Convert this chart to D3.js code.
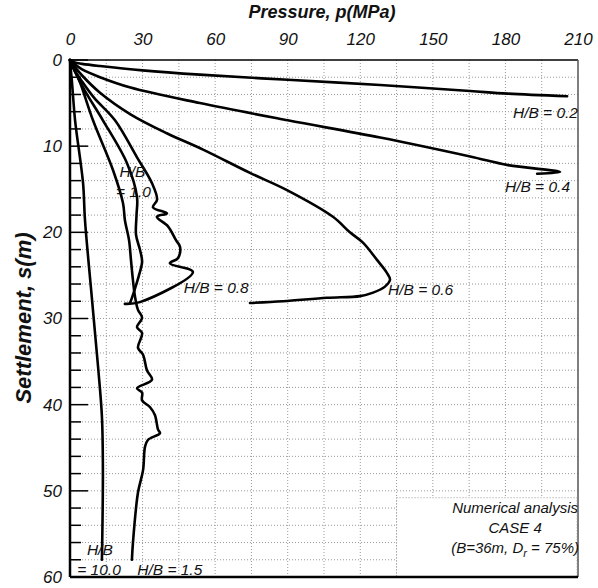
<!DOCTYPE html>
<html>
<head>
<meta charset="utf-8">
<script src="https://cdn.jsdelivr.net/npm/d3@7"></script>
<style>
  body { margin: 0; background: #fff; }
  svg text { font-family: "Liberation Sans", Arial, sans-serif; font-style: italic; fill: #111; }
</style>
</head>
<body>
<div id="chart"></div>
<script>
// settlement curves, [pressure MPa, settlement m]
const hb02 = [[0, 0], [2, 0.3], [5, 0.45], [12.4, 0.7], [30, 1.2], [53.7, 1.7], [90, 2.3], [128.2, 2.9],
  [165.4, 3.6], [181, 3.9], [205.5, 4.2]];
const hb04 = [[0, 0], [2, 0.5], [5, 1.1], [12.4, 2.0], [25, 3.2], [53.7, 5.0], [90, 7.0], [128.2, 9.0],
  [165.4, 11.2], [181.1, 12.2], [202.6, 13.0], [193.1, 13.2]];
const hb06 = [[0, 0], [2, 0.8], [5, 1.8], [12.4, 3.8], [25, 6.3], [40, 8.5], [55.0, 10.4], [74.4, 13.1],
  [89.7, 15.1], [108.7, 18.2], [115.7, 20.0], [121.1, 21.2], [126.9, 23.2], [131.0, 24.7], [132.3, 25.5],
  [130.2, 26.3], [125.3, 27.0], [119.9, 27.4], [106.2, 27.6], [88.1, 28.0], [74.4, 28.2]];
const hb08 = [[0, 0], [2, 1.2], [5, 2.5], [10, 4.4], [18.6, 7.0], [27.7, 11.3], [33.9, 14.3], [36.0, 16.2],
  [34.3, 17.1], [40.1, 17.8], [35.9, 18.2], [40.5, 19.3], [43.8, 20.9], [45.5, 21.7], [44.6, 23.0],
  [41.3, 23.6], [50.8, 24.6], [28.9, 28.1], [22.7, 28.3]];
const hb10 = [[0, 0], [2, 1.3], [6, 3.5], [13.6, 7.0], [23.6, 12.0], [27.7, 15.9], [27.5, 18.0], [27.3, 20.3],
  [28.9, 22.0], [29.8, 23.4], [28.5, 25.0], [26.9, 26.5], [25.6, 27.6], [24.8, 28.2]];
const hb15 = [[0, 0], [1.5, 1.0], [4, 2.5], [9.5, 7.0], [17.8, 12.8], [21.9, 16.6], [22.7, 18.6], [24.4, 20.9],
  [25.2, 23.2], [26.0, 25.5], [26.9, 27.5], [28.1, 29.0], [29.8, 29.9], [27.7, 31.0], [29.8, 31.7], [28.1, 33.4],
  [30.2, 34.2], [31.8, 36.0], [33.9, 37.1], [27.7, 38.1], [29.8, 38.6], [29.8, 39.5], [33.1, 40.3], [35.1, 41.2],
  [36.4, 42.9], [37.2, 43.3], [32.2, 44.1], [31.0, 44.9], [30.2, 47.6], [28.1, 50.2], [26.0, 56.1], [25.6, 58.0]];
const hb100 = [[0, 0], [0.3, 1.0], [0.8, 2.5], [2.1, 7.0], [5.4, 14.3], [6.2, 18.6], [9.1, 27.8], [11.6, 35.6],
  [13.2, 41.4], [13.6, 47.6], [13.2, 58.0]];

const curves = [hb02, hb04, hb06, hb08, hb10, hb15, hb100];
const xTicks = [0, 30, 60, 90, 120, 150, 180, 210];
const yTicks = [0, 10, 20, 30, 40, 50, 60];

const margin = {top: 60, right: 20, bottom: 11, left: 70};
const width = 598 - margin.left - margin.right;
const height = 588 - margin.top - margin.bottom;

const svg = d3.select('#chart').append('svg')
  .attr('width', 598).attr('height', 588);
const g = svg.append('g').attr('transform', `translate(${margin.left},${margin.top})`);

const x = d3.scaleLinear().domain([0, 210]).range([0, width]);
const y = d3.scaleLinear().domain([0, 60]).range([0, height]);

// dotted grid
g.append('g').selectAll('line').data(d3.range(15, 210, 15)).join('line')
  .attr('x1', d => x(d)).attr('x2', d => x(d)).attr('y1', 0).attr('y2', height)
  .attr('stroke', '#999').attr('stroke-width', 1).attr('stroke-dasharray', '1,2');
g.append('g').selectAll('line').data(d3.range(2, 60, 2)).join('line')
  .attr('y1', d => y(d)).attr('y2', d => y(d)).attr('x1', 0).attr('x2', width)
  .attr('stroke', '#999').attr('stroke-width', 1).attr('stroke-dasharray', '1,2');

// top axis
const topAxis = g.append('g')
  .call(d3.axisTop(x).tickValues(xTicks).tickSize(0).tickPadding(15));
topAxis.select('.domain').remove();
topAxis.selectAll('text').style('font-size', '17px').style('font-style', 'italic');

// left axis, inward ticks
const leftAxis = g.append('g')
  .call(d3.axisLeft(y).tickValues(yTicks).tickSize(0).tickPadding(8));
leftAxis.select('.domain').remove();
leftAxis.selectAll('text').style('font-size', '17px').style('font-style', 'italic');
g.append('g').selectAll('line').data(d3.range(0, 61, 2)).join('line')
  .attr('x1', 0).attr('x2', d => d % 10 === 0 ? 18 : 11)
  .attr('y1', d => y(d)).attr('y2', d => y(d))
  .attr('stroke', '#000').attr('stroke-width', 1.5);

// frame
g.append('line').attr('x1', 0).attr('x2', width).attr('y1', 0).attr('y2', 0).attr('stroke', '#000').attr('stroke-width', 1.5);
g.append('line').attr('x1', width).attr('x2', width).attr('y1', 0).attr('y2', height).attr('stroke', '#555').attr('stroke-width', 1.5);

// note box
g.append('rect').attr('x', x(135)).attr('y', y(50.8)).attr('width', x(210) - x(135) - 1).attr('height', y(60) - y(50.8))
  .attr('fill', '#fff');
g.append('rect').attr('x', x(135)).attr('y', y(50.8)).attr('width', x(210) - x(135) - 1).attr('height', y(60) - y(50.8))
  .attr('fill', 'none').attr('stroke', '#999').attr('stroke-dasharray', '1,2');

// curves
const line = d3.line().x(d => x(d[0])).y(d => y(d[1])).curve(d3.curveCatmullRom.alpha(0.5));
g.append('g').selectAll('path').data(curves).join('path')
  .attr('d', line).attr('fill', 'none').attr('stroke', '#000')
  .attr('stroke-width', 2.6).attr('stroke-linejoin', 'round').attr('stroke-linecap', 'round');

g.append('line').attr('x1', 0).attr('x2', 0).attr('y1', 0).attr('y2', height).attr('stroke', '#000').attr('stroke-width', 2.5);
g.append('line').attr('x1', 0).attr('x2', width).attr('y1', height).attr('y2', height).attr('stroke', '#000').attr('stroke-width', 2.5);

// curve labels
const labels = [
  {t: 'H/B = 0.2', p: 210, s: 6.7, a: 'end'},
  {t: 'H/B = 0.4', p: 206.7, s: 15.3, a: 'end'},
  {t: 'H/B = 0.6', p: 131.5, s: 27.3, a: 'start'},
  {t: 'H/B = 0.8', p: 47, s: 27.0, a: 'start'},
  {t: 'H/B', p: 20.5, s: 13.6, a: 'start'},
  {t: '= 1.0', p: 19, s: 15.9, a: 'start'},
  {t: 'H/B', p: 7, s: 57.5, a: 'start'},
  {t: '= 10.0', p: 3, s: 59.8, a: 'start'},
  {t: 'H/B = 1.5', p: 27.8, s: 59.8, a: 'start'}
];
g.append('g').selectAll('text').data(labels).join('text')
  .attr('x', d => x(d.p)).attr('y', d => y(d.s))
  .attr('text-anchor', d => d.a)
  .style('font-size', '15.5px')
  .text(d => d.t);

// note text
const note = g.append('text').attr('text-anchor', 'middle').style('font-size', '15px');
note.append('tspan').attr('x', x(184)).attr('y', y(52.6)).text('Numerical analysis');
note.append('tspan').attr('x', x(184)).attr('y', y(54.9)).text('CASE 4');
note.append('tspan').attr('x', x(184)).attr('y', y(57.2)).text('(B=36m, D');
note.append('tspan').attr('dy', 4).style('font-size', '11px').text('r');
note.append('tspan').attr('dy', -4).text(' = 75%)');

// axis titles
svg.append('text').attr('x', 322).attr('y', 18).attr('text-anchor', 'middle')
  .style('font-size', '18px').style('font-weight', 'bold').text('Pressure, p(MPa)');
svg.append('text').attr('transform', 'translate(31,318) rotate(-90)').attr('text-anchor', 'middle')
  .style('font-size', '22px').style('font-weight', 'bold').text('Settlement, s(m)');
</script>
</body>
</html>
